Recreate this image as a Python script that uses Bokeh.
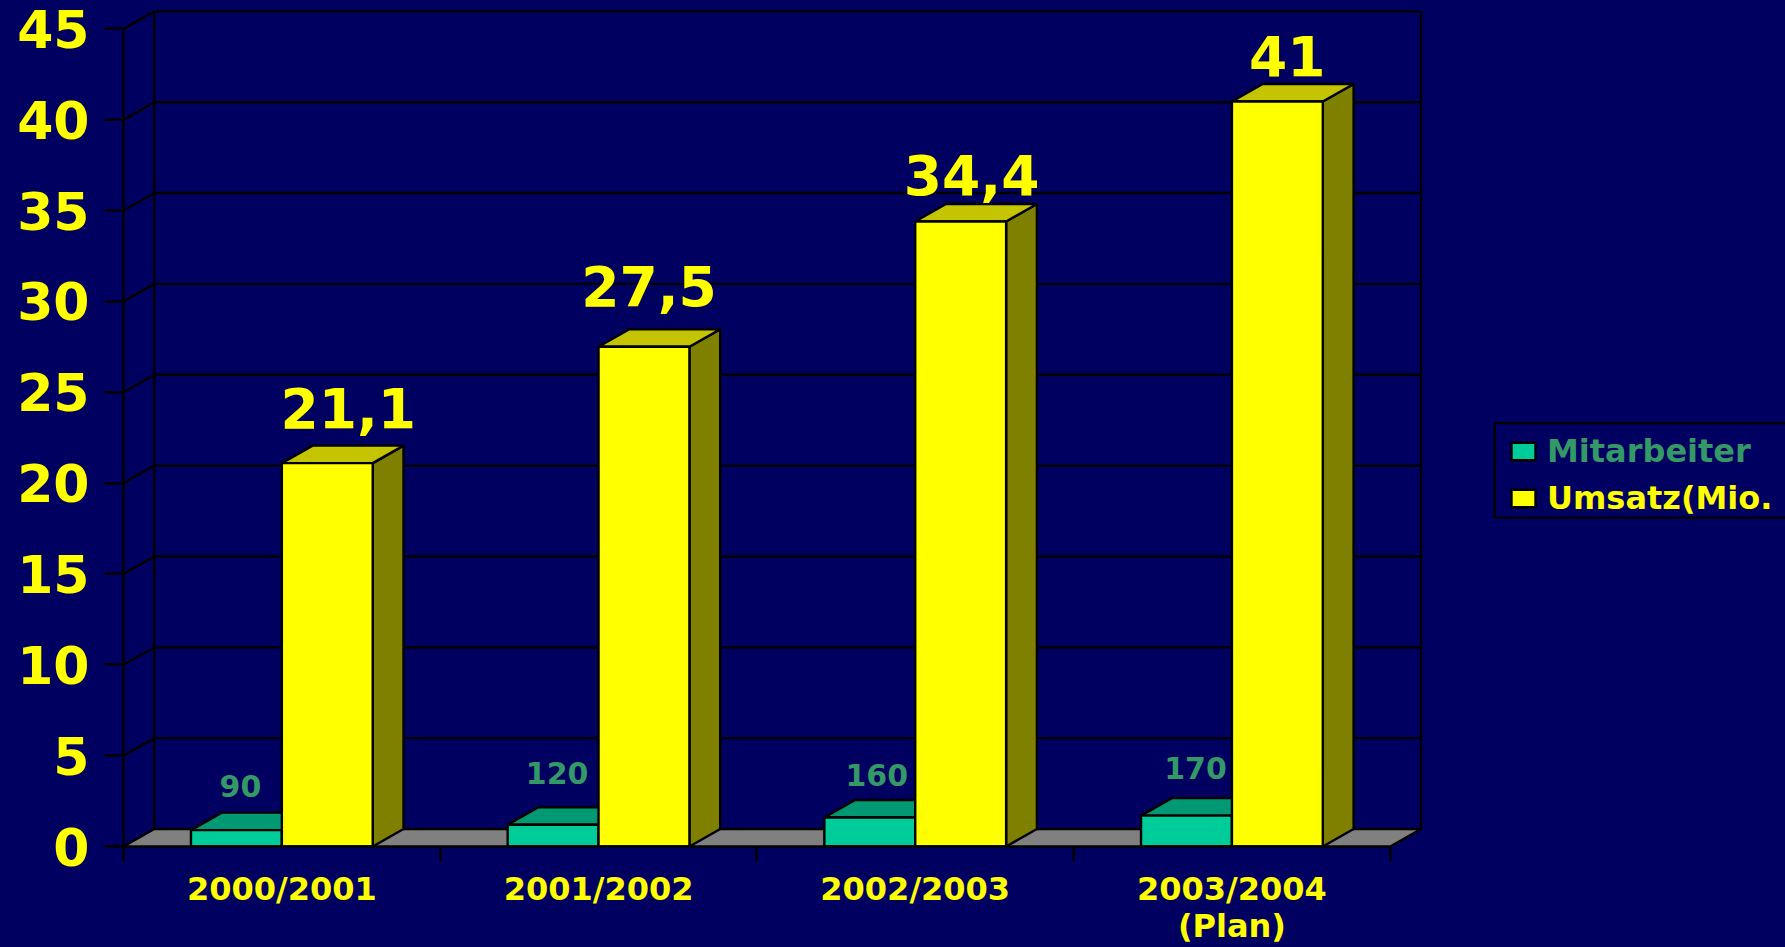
from bokeh.plotting import figure
from bokeh.models import FixedTicker, Legend, LegendItem, BoxAnnotation, Range1d, LinearAxis
from bokeh.core.properties import value
from bokeh.embed import file_html
from bokeh.resources import INLINE

categories = ["2000/2001", "2001/2002", "2002/2003", "2003/2004"]
category_notes = {3: "(Plan)"}
mitarbeiter = [90, 120, 160, 170]
umsatz = [21.1, 27.5, 34.4, 41]
umsatz_labels = ["21,1", "27,5", "34,4", "41"]
y_ticks = [0, 5, 10, 15, 20, 25, 30, 35, 40, 45]

NAVY = "#000060"
GREEN = "#00CC99"
GREEN_TOP = "#009973"
GREEN_TEXT = "#339966"
YELLOW = "#FFFF00"
YELLOW_TOP = "#C4C400"
YELLOW_SIDE = "#808000"
FLOOR = "#808080"
FONT = "DejaVu Sans"
LW = 2.4

# depth of the fake 3D box, and bar width, in data units
DX = 0.0972
DY = 0.963
BAR_W = 0.287
n = len(categories)
green_h = [v / 100 for v in mitarbeiter]
centers = [i + 0.5 for i in range(n)]

p = figure(width=1785, height=947, output_backend="svg", toolbar_location=None,
           x_range=Range1d(0, 5.248), y_range=Range1d(0, 46.56),
           min_border_left=123, min_border_right=0, min_border_top=0, min_border_bottom=101,
           background_fill_color=NAVY, border_fill_color=NAVY, outline_line_color=None)
p.grid.visible = False

# y axis
ya = p.yaxis[0]
ya.ticker = FixedTicker(ticks=y_ticks)
ya.bounds = (0, 45)
ya.axis_line_color = "black"
ya.axis_line_width = LW
ya.major_tick_line_color = "black"
ya.major_tick_line_width = LW
ya.major_tick_out = 19
ya.major_tick_in = 0
ya.minor_tick_line_color = None
ya.major_label_text_color = YELLOW
ya.major_label_text_font = FONT
ya.major_label_text_font_style = "bold"
ya.major_label_text_font_size = "52px"
ya.major_label_standoff = 15

# x axis: labels between ticks
xa = p.xaxis[0]
xa.ticker = FixedTicker(ticks=centers, minor_ticks=list(range(n + 1)))
xa.major_label_overrides = {c: l for c, l in zip(centers, categories)}
xa.bounds = (0, 4)
xa.axis_line_color = "black"
xa.axis_line_width = LW
xa.major_tick_line_color = None
xa.major_tick_out = 0
xa.major_tick_in = 0
xa.minor_tick_line_color = "black"
xa.minor_tick_line_width = LW
xa.minor_tick_out = 15
xa.minor_tick_in = 0
xa.major_label_text_color = YELLOW
xa.major_label_text_font = FONT
xa.major_label_text_font_style = "bold"
xa.major_label_text_font_size = "32px"
xa.major_label_standoff = 8

# second line of the category labels
note_ticks = [centers[i] for i in category_notes]
xb = LinearAxis(ticker=FixedTicker(ticks=note_ticks),
                major_label_overrides={centers[i]: t for i, t in category_notes.items()},
                axis_line_color=None, major_tick_line_color=None, minor_tick_line_color=None,
                major_label_text_color=YELLOW, major_label_text_font=FONT,
                major_label_text_font_style="bold", major_label_text_font_size="32px",
                major_label_standoff=-4, major_tick_out=0, major_tick_in=0)
p.add_layout(xb, "below")

# floor
p.patch([0, 4, 4 + DX, DX], [0, 0, DY, DY], fill_color=FLOOR, line_color=None)

# walls: gridlines on back and left wall
wall_xs = [[0, DX, 4 + DX] for _ in y_ticks]
wall_ys = [[t, t + DY, t + DY] for t in y_ticks]
p.multi_line(wall_xs, wall_ys, line_color="black", line_width=LW)
p.multi_line([[DX, DX], [4 + DX, 4 + DX], [4, 4 + DX]],
             [[DY, 45 + DY], [DY, 45 + DY], [0, DY]], line_color="black", line_width=LW)


def box(left_list, heights, top_color, side_color, front_color):
    right_list = [l + BAR_W for l in left_list]
    top_x = [[l, r, r + DX, l + DX] for l, r in zip(left_list, right_list)]
    top_y = [[h, h, h + DY, h + DY] for h in heights]
    side_x = [[r, r + DX, r + DX, r] for r in right_list]
    side_y = [[0, DY, h + DY, h] for h in heights]
    p.patches(side_x, side_y, fill_color=side_color, line_color="black", line_width=LW)
    p.patches(top_x, top_y, fill_color=top_color, line_color="black", line_width=LW)
    return p.vbar(x=[l + BAR_W / 2 for l in left_list], width=BAR_W, bottom=0, top=heights,
                  fill_color=front_color, line_color="black", line_width=LW)


green_r = box([c - BAR_W for c in centers], green_h, GREEN_TOP, GREEN_TOP, GREEN)
yellow_r = box(list(centers), umsatz, YELLOW_TOP, YELLOW_SIDE, YELLOW)

# value labels (offsets in screen px, as hand-placed in the original)
p.text(x=[c + BAR_W / 2 for c in centers], y=umsatz, text=umsatz_labels,
       x_offset=[21, 5, 11, 10], y_offset=[-55, -61, -46, -46],
       text_color=YELLOW, text_font=value(FONT), text_font_style="bold",
       text_font_size="55px", text_align="center", text_baseline="alphabetic")
p.text(x=[c - BAR_W / 2 for c in centers], y=green_h, text=[str(v) for v in mitarbeiter],
       x_offset=[4, 4, 7, 9], y_offset=[-44, -52, -42, -48],
       text_color=GREEN_TEXT, text_font=value(FONT), text_font_style="bold",
       text_font_size="30px", text_align="center", text_baseline="alphabetic")

# legend frame (open to the right, as the page cuts it)
p.add_layout(BoxAnnotation(left=4.33, right=6, bottom=18.1, top=23.3, fill_alpha=0,
                           line_color="black", line_width=LW, line_alpha=1))

for label, rend, color, loc in [("Mitarbeiter", green_r, GREEN_TEXT, (1385, 376)),
                                ("Umsatz(Mio.", yellow_r, YELLOW, (1385, 329))]:
    p.add_layout(Legend(items=[LegendItem(label=label, renderers=[rend])], location=loc,
                        background_fill_alpha=0, border_line_color=None, margin=0, padding=0,
                        glyph_width=30, glyph_height=22, label_standoff=9,
                        label_text_color=color, label_text_font=FONT,
                        label_text_font_style="bold", label_text_font_size="32px"))

html = file_html(p, INLINE)
html = html.replace("<head>", f"<head><style>html,body{{background:{NAVY};overflow:hidden}}</style>", 1)
open("out.html", "w").write(html)
